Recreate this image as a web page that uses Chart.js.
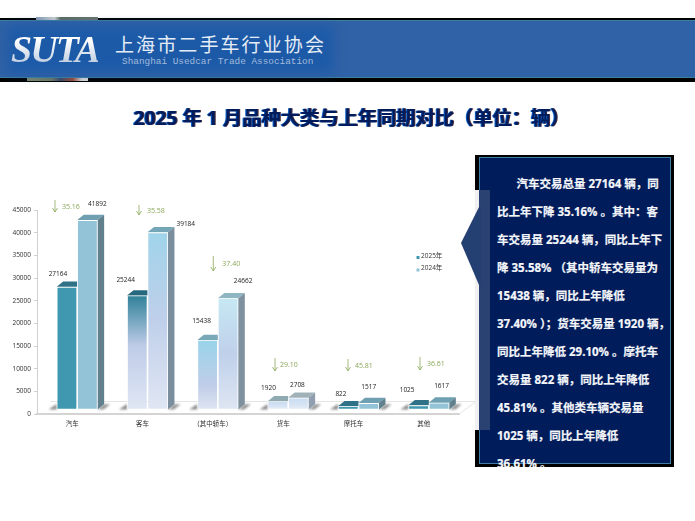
<!DOCTYPE html>
<html lang="zh">
<head>
<meta charset="utf-8">
<title>2025 年 1 月品种大类与上年同期对比</title>
<script src="https://cdn.jsdelivr.net/npm/chart.js@4"></script>
<style>
    html, body { margin: 0; padding: 0; background: #fff; overflow: hidden; }
    #page { position: relative; width: 695px; height: 521px; overflow: hidden; }
    #page > * { position: absolute; }
    #chart { left: 0; top: 0; }

    /* header band */
    #bandEdge { left: 0; top: 18px; width: 695px; height: 64px; background: #000; }
    #bandBits1 { left: 36px; top: 17px; width: 62px; height: 3px; background: linear-gradient(90deg, #8a9cb4, #c9cfd0 30%, #5e6a62 40%, #6c7670); }
    #band { left: 0; top: 20px; width: 695px; height: 56px; background: #2f62a6; border-top: 1px solid #3f7f9f; border-bottom: 1px solid #3f7f9f; }
    #bandBits2 { left: 27px; top: 78px; width: 61px; height: 3px; background: linear-gradient(90deg, #7e8a6a, #6e7a62 40%, #3e4a6a 55%, #a04a30 75%, #d8d8d8 90%); }
    #bandGlow { left: 8px; top: 27px; width: 325px; height: 45px; background: #1c5aa8; filter: blur(6px); }
    #logo { left: 11px; top: 27px; font: italic bold 38px "Liberation Serif", serif; letter-spacing: -1.9px;
            background: linear-gradient(#fff 30%, #a9bdd6); -webkit-background-clip: text; background-clip: text; color: transparent; }
    #cnName { left: 115px; top: 30px; font: 19px "Noto Sans CJK SC", sans-serif; letter-spacing: 2.1px; color: #e6ecf5; white-space: nowrap; }
    #enName { left: 122px; top: 56px; font: 9.4px "Liberation Mono", monospace; color: #a3bbdb; white-space: nowrap; }

    #heading { left: 5.5px; top: 104px; width: 692px; text-align: center; font: bold 19.25px "Open Sans", "Noto Sans CJK SC", sans-serif;
               line-height: 28px; color: #001c5c; text-shadow: -1px 0 0 #0a5fc8, 1px 0 0 #4a3040; white-space: nowrap; }

    /* summary callout */
    #boxBack { left: 475px; top: 155px; width: 199px; height: 312px; background: #000; }
    #boxGap { left: 475px; top: 190px; width: 4px; height: 240px; background: #f0f0f0; }
    #box { left: 479px; top: 157px; width: 190px; height: 305px; background: #001c5a; border: 1px solid #3d7fa3; }
    #boxStrip { left: 479px; top: 190px; width: 11px; height: 240px; background: #2a4272; }
    #pointer { left: 461px; top: 207px; width: 20px; height: 78px; background: #243f72; clip-path: polygon(0 46%, 90% 0, 100% 0, 100% 100%, 90% 100%); }
    #boxText { left: 497px; top: 170px; width: 176px; margin: 0; font: bold 11.5px/28px "Open Sans", "Noto Sans CJK SC", sans-serif; -webkit-text-stroke: 0.2px #f4f6fa; color: #f4f6fa; white-space: nowrap; height: 297px; overflow: hidden; }
    #boxText .lead { display: inline-block; width: 19.5px; }
</style>
</head>
<body>
<div id="page">
    <canvas id="chart" width="695" height="521"></canvas>

    <div id="bandEdge"></div>
    <div id="bandBits1"></div>
    <div id="band"></div>
    <div id="bandBits2"></div>
    <div id="bandGlow"></div>
    <div id="logo">SUTA</div>
    <div id="cnName">上海市二手车行业协会</div>
    <div id="enName">Shanghai Usedcar Trade Association</div>

    <div id="heading">2025 年 1 月品种大类与上年同期对比（单位：辆）</div>

    <div id="boxBack"></div>
    <div id="boxGap"></div>
    <div id="box"></div>
    <div id="boxStrip"></div>
    <div id="pointer"></div>
    <p id="boxText"><span class="lead"></span>汽车交易总量 27164 辆，同<br>比上年下降 35.16% 。其中：客<br>车交易量 25244 辆，同比上年下<br>降 35.58% （其中轿车交易量为<br>15438 辆，同比上年降低<br>37.40% ）；货车交易量 1920 辆，<br>同比上年降低 29.10% 。摩托车<br>交易量 822 辆，同比上年降低<br>45.81% 。其他类车辆交易量<br>1025 辆，同比上年降低<br>36.61% 。</p>
</div>

<script>
var categories = ["汽车", "客车", "（其中轿车）", "货车", "摩托车", "其他"];
var sales2025 = [27164, 25244, 15438, 1920, 822, 1025];
var sales2024 = [41892, 39184, 24662, 2708, 1517, 1617];
var dropPercent = ["35.16", "35.58", "37.40", "29.10", "45.81", "36.61"];
var yTicks = [0, 5000, 10000, 15000, 20000, 25000, 30000, 35000, 40000, 45000];

var LABEL_FONT = '6.5px "Open Sans", "Noto Sans CJK SC", sans-serif';
var DEPTH_X = 6.5, DEPTH_Y = 5.3;   // how far the box goes back

// face colours per category: front gradient [top, mid, bottom, midStop], then top and side
var teal25 = {front: ["#3f97b0", "#3f97b0", "#3f97b0", 0.5], top: "#2f7186", side: "#5f808c"};
var teal24 = {front: ["#93c3d6", "#93c3d6", "#93c3d6", 0.5], top: "#6fa0b2", side: "#5f808c"};
var faces2025 = [
    teal25,
    {front: ["#2f8199", "#bfcce8", "#e0e7f4", 0.44], top: "#26687e", side: "#7a8c9c"},
    {front: ["#98d4ea", "#c0cde8", "#dfe6f3", 0.65], top: "#79a9b8", side: "#7a8c9c"},
    {front: ["#c5dcf0", "#d5e2f3", "#eaeff8", 0.5], top: "#90aab2", side: "#8f9fb0"},
    teal25,
    teal25
];
var faces2024 = [
    teal24,
    {front: ["#a0d4ea", "#bfcfea", "#e0e6f3", 0.49], top: "#75a6b8", side: "#7a8e9e"},
    {front: ["#c6e8f3", "#bfd0ea", "#dfe6f3", 0.5], top: "#8fb6c2", side: "#7f909f"},
    {front: ["#c8ddf2", "#d5e2f3", "#e6ecf6", 0.5], top: "#a0b2b8", side: "#8f9fb0"},
    teal24,
    teal24
];

// value label nudges from the bar's top centre
var labelNudge2025 = [[-9, -13], [-11.6, -15], [-6, -19], [-9.5, -13.6], [-7.3, -12.6], [-11.5, -15]];
var labelNudge2024 = [[10, -16], [28, -8], [15, -17], [-1, -13], [0, -16.4], [2.5, -17]];
// drop arrows: x, top, tip, gap to the percentage text
var arrowSpots = [[55, 200, 212, 7], [139, 205, 215, 8], [213.3, 256, 271, 9], [275, 358, 371, 5], [348, 359, 371, 7], [420, 357, 370, 7]];

function frontFill(faces, values) {
    return function (c) {
        var y = c.chart.scales.y;
        var f = faces[c.dataIndex] ? faces[c.dataIndex].front : null;
        if (!y || !f) return faces[0].front[0];
        var topPx = y.getPixelForValue(values[c.dataIndex]);
        var basePx = y.getPixelForValue(0);
        if (!isFinite(topPx) || !isFinite(basePx)) return f[0];
        var g = c.chart.ctx.createLinearGradient(0, topPx, 0, basePx);
        g.addColorStop(0, f[0]);
        g.addColorStop(f[3], f[1]);
        g.addColorStop(1, f[2]);
        return g;
    };
}

function poly(ctx, pts, fill) {
    ctx.beginPath();
    ctx.moveTo(pts[0][0], pts[0][1]);
    for (var i = 1; i < pts.length; i++) ctx.lineTo(pts[i][0], pts[i][1]);
    ctx.closePath();
    ctx.fillStyle = fill;
    ctx.fill();
}

var boxBars = {
    id: 'boxBars',
    beforeDatasetsDraw: function (chart) {
        var ctx = chart.ctx, area = chart.chartArea;
        var front = area.bottom, back = area.bottom - 13;

        // floor
        ctx.save();
        ctx.strokeStyle = "#e4e4e4";
        ctx.beginPath();
        ctx.moveTo(50, back + 0.5);
        ctx.lineTo(area.right + 17, back + 0.5);
        ctx.lineTo(area.right, front);
        ctx.stroke();
        ctx.restore();

        // bars sit a little behind the front edge of the floor
        ctx.save();
        ctx.translate(5, -4);

        var low = chart.getDatasetMeta(0).data;
        var high = chart.getDatasetMeta(1).data;
        var i, a, b, x0, x1, base;

        // soft shadows
        ctx.save();
        ctx.filter = "blur(1px)";
        for (i = 0; i < low.length; i++) {
            a = low[i]; b = high[i];
            x0 = a.x - a.width / 2; x1 = b.x + b.width / 2; base = a.base;
            poly(ctx, [[x0 - 8, base], [x0, base - 5.5], [x0, base]], "#8a8a8a");
            poly(ctx, [[x1, base], [x1 + DEPTH_X, base - DEPTH_Y], [x1 + DEPTH_X + 6, base - DEPTH_Y], [x1 + 6, base]], "#949494");
        }
        ctx.restore();

        for (i = 0; i < low.length; i++) {
            a = low[i]; b = high[i];
            x0 = a.x - a.width / 2; x1 = a.x + a.width / 2;
            poly(ctx, [[x0, a.y], [x0 + DEPTH_X, a.y - DEPTH_Y], [x1, a.y - DEPTH_Y], [x1, a.y]], faces2025[i].top);

            x0 = b.x - b.width / 2; x1 = b.x + b.width / 2; base = b.base;
            poly(ctx, [[x0, b.y], [x0 + DEPTH_X, b.y - DEPTH_Y], [x1 + DEPTH_X, b.y - DEPTH_Y], [x1, b.y]], faces2024[i].top);
            poly(ctx, [[x1, b.y], [x1 + DEPTH_X, b.y - DEPTH_Y], [x1 + DEPTH_X, base - DEPTH_Y], [x1, base]], faces2024[i].side);
        }
    },
    afterDatasetsDraw: function (chart) {
        var ctx = chart.ctx;
        ctx.restore();

        ctx.save();
        ctx.font = LABEL_FONT;
        ctx.textBaseline = "middle";
        ctx.textAlign = "center";
        ctx.fillStyle = "#222";
        var low = chart.getDatasetMeta(0).data;
        var high = chart.getDatasetMeta(1).data;
        for (var i = 0; i < low.length; i++) {
            ctx.fillText(sales2025[i], low[i].x + 5 + labelNudge2025[i][0], low[i].y - 4 + labelNudge2025[i][1]);
            ctx.fillText(sales2024[i], high[i].x + 5 + labelNudge2024[i][0], high[i].y - 4 + labelNudge2024[i][1]);
        }

        // year-on-year drop arrows
        ctx.strokeStyle = "#8aa85a";
        ctx.fillStyle = "#8aa85a";
        ctx.textAlign = "left";
        ctx.lineWidth = 0.8;
        ctx.font = '7px "Open Sans", sans-serif';
        for (i = 0; i < arrowSpots.length; i++) {
            var s = arrowSpots[i];
            ctx.beginPath();
            ctx.moveTo(s[0], s[1]);
            ctx.lineTo(s[0], s[2]);
            ctx.moveTo(s[0] - 2.5, s[2] - 4);
            ctx.lineTo(s[0], s[2]);
            ctx.lineTo(s[0] + 2.5, s[2] - 4);
            ctx.stroke();
            ctx.fillText(dropPercent[i], s[0] + s[3], (s[1] + s[2]) / 2 + 0.5);
        }

        // legend
        ctx.font = LABEL_FONT;
        ctx.fillStyle = "#333";
        ctx.fillText("2025年", 421, 256.5);
        ctx.fillText("2024年", 421, 268.5);
        ctx.fillStyle = "#3f97b0";
        ctx.fillRect(416.5, 256, 3, 3);
        ctx.fillStyle = "#93c3d6";
        ctx.fillRect(416.5, 268.5, 3, 3);
        ctx.restore();
    }
};

var ctx = document.getElementById('chart').getContext('2d');
var salesChart = new Chart(ctx, {
    type: 'bar',
    data: {
        labels: categories,
        datasets: [{
            label: '2025年',
            data: sales2025,
            backgroundColor: frontFill(faces2025, sales2025),
            borderColor: "rgba(255,255,255,0.75)",
            borderWidth: 0.8,
            borderSkipped: false
        }, {
            label: '2024年',
            data: sales2024,
            backgroundColor: frontFill(faces2024, sales2024),
            borderColor: "rgba(255,255,255,0.75)",
            borderWidth: 0.8,
            borderSkipped: false
        }]
    },
    options: {
        responsive: false,
        animation: false,
        clip: false,
        categoryPercentage: 0.582,
        barPercentage: 1,
        layout: {padding: {left: 0, right: 236, top: 210, bottom: 87}},
        plugins: {legend: {display: false}, tooltip: {enabled: false}},
        scales: {
            x: {
                afterFit: function (scale) { scale.height = 20; },
                grid: {display: false},
                border: {color: "#d4d4d4", width: 2},
                ticks: {
                    color: "#333",
                    font: {size: 6.5, family: '"Open Sans", "Noto Sans CJK SC", sans-serif'},
                    padding: -2,
                    maxRotation: 0,
                    autoSkip: false
                }
            },
            y: {
                min: 0,
                max: 45000,
                afterFit: function (scale) { scale.width = 37; },
                afterBuildTicks: function (scale) {
                    scale.ticks = yTicks.map(function (v) { return {value: v}; });
                },
                grid: {drawOnChartArea: false, color: "#d0d0d0", tickLength: 3},
                border: {color: "#d0d0d0", width: 1},
                ticks: {
                    color: "#333",
                    font: {size: 6.5, family: '"Open Sans", "Noto Sans CJK SC", sans-serif'},
                    padding: 3,
                    autoSkip: false,
                    callback: function (value) { return String(value); }
                }
            }
        }
    },
    plugins: [boxBars]
});
</script>
</body>
</html>
